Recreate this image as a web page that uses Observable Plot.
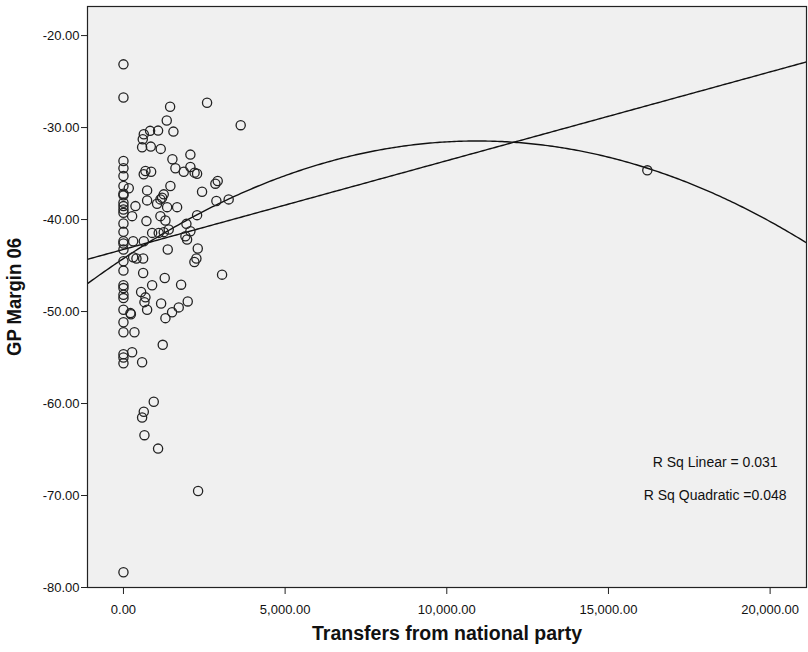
<!DOCTYPE html>
<html><head><meta charset="utf-8">
<script src="https://cdn.jsdelivr.net/npm/d3@7"></script>
<script src="https://cdn.jsdelivr.net/npm/@observablehq/plot@0.6"></script>
<style>
body{margin:0;background:#fff;}
#chart svg{display:block;}
</style></head>
<body><div id="chart"></div>
<script>
// Transfers from national party (x) and GP Margin 06 (y)
const transfers = [
  0,0,0,0,0,0,0,0,0,0,0,0,0,0,0,0,0,0,0,0,0,0,0,0,0,0,0,0,0,0,
  1443,2586,1339,3626,629,824,1071,1545,597,577,845,1153,1514,2070,
  164,268,680,627,856,1607,1864,2070,2277,2200,1452,732,1246,1143,1195,732,371,1040,1350,1659,
  2431,2843,2915,3254,2874,1143,1298,711,2277,1947,2070,1916,1968,887,1091,1246,1400,
  629,300,300,402,609,1370,2298,2256,2194,609,1277,3050,
  887,1783,546,680,649,732,1165,1710,1988,1504,1298,216,230,340,1215,268,577,
  937,629,577,649,1071,2308,16202
];
const margin06 = [
  -23.13,-26.73,-33.63,-34.43,-35.27,-36.36,-37.20,-37.37,-38.18,-38.54,-38.90,-39.27,-40.43,-41.34,-42.36,-42.61,-43.26,-44.54,-45.55,-47.15,-47.45,-48.17,-48.54,-49.80,-51.16,-52.25,-54.65,-55.00,-55.63,-78.34,
  -27.74,-27.31,-29.24,-29.74,-30.72,-30.36,-30.33,-30.44,-31.27,-32.14,-32.07,-32.32,-33.45,-32.94,
  -36.60,-39.63,-34.72,-35.08,-34.80,-34.43,-34.80,-34.29,-35.02,-34.90,-36.36,-36.83,-37.26,-37.81,-37.63,-37.92,-38.54,-38.29,-38.65,-38.65,
  -36.98,-36.10,-35.81,-37.81,-37.99,-39.63,-40.10,-40.17,-39.52,-40.47,-41.27,-41.81,-42.17,-41.45,-41.45,-41.37,-41.08,
  -42.36,-42.36,-44.10,-44.24,-44.24,-43.26,-43.15,-44.24,-44.61,-45.81,-46.36,-45.99,
  -47.15,-47.08,-47.88,-48.46,-48.98,-49.80,-49.12,-49.55,-48.90,-50.07,-50.72,-50.17,-50.30,-52.25,-53.62,-54.43,-55.52,
  -59.80,-60.89,-61.52,-63.44,-64.90,-69.51,-34.65
];
const xTicks = [0, 5000, 10000, 15000, 20000];
const yTicks = [-20, -30, -40, -50, -60, -70, -80];
const xDomain = [-1112, 21125];
const yDomain = [-80, -16.84];
// fit coefficients
const linearFit = [-43.25, 0.000965];                 // intercept, slope
const quadraticFit = [-44.24, 0.0023363, -1.0677e-7];  // c, b, a
const rsqLabels = ["R Sq Linear = 0.031", "R Sq Quadratic =0.048"];
const xTitle = "Transfers from national party";
const yTitle = "GP Margin 06";

const points = transfers.map((x, i) => ({x, y: margin06[i]}));
const xs = d3.range(xDomain[0], xDomain[1] + 1, (xDomain[1] - xDomain[0]) / 300);
const linPts = xs.map(x => ({x, y: linearFit[0] + linearFit[1] * x}));
const quadPts = xs.map(x => ({x, y: quadraticFit[0] + quadraticFit[1] * x + quadraticFit[2] * x * x}));

const font = "'Liberation Sans', Arial, sans-serif";
const fmtX = d3.formatLocale({decimal: ".", thousands: ",", grouping: [3], currency: ["", ""], minus: "-"}).format(",.2f");
const fmtY = d3.formatLocale({decimal: ".", thousands: ",", grouping: [3], currency: ["", ""], minus: "-"}).format(".2f");

const chart = Plot.plot({
  width: 808,
  height: 652,
  marginLeft: 87,
  marginRight: 2,
  marginTop: 6,
  marginBottom: 65,
  style: {fontFamily: font, background: "#fff", color: "#111"},
  x: {domain: xDomain},
  y: {domain: yDomain},
  marks: [
    Plot.frame({fill: "#f0f0f0"}),
    Plot.line(linPts, {x: "x", y: "y", stroke: "#111", strokeWidth: 1.4, clip: true}),
    Plot.line(quadPts, {x: "x", y: "y", stroke: "#111", strokeWidth: 1.4, clip: true}),
    Plot.dot(points, {x: "x", y: "y", r: 4.6, stroke: "#222", strokeWidth: 1.3, fill: "none"}),
    Plot.frame({stroke: "#222", strokeWidth: 1.2}),
    Plot.axisX({ticks: xTicks, tickFormat: fmtX, tickSize: 7, tickPadding: 10, fontSize: 13, label: null, stroke: "#222"}),
    Plot.axisY({ticks: yTicks, tickFormat: fmtY, tickSize: 6, tickPadding: 2, fontSize: 13, label: null, stroke: "#222"}),
    Plot.text([rsqLabels[0]], {x: 18300, y: -66.45, text: d => d, fontSize: 14, fill: "#111"}),
    Plot.text([rsqLabels[1]], {x: 18300, y: -70.05, text: d => d, fontSize: 14, fill: "#111"}),
    Plot.text([xTitle], {frameAnchor: "bottom", textAnchor: "middle", lineAnchor: "middle", dy: 46, text: d => d, fontSize: 20, fontWeight: "bold", fill: "#111", className: "xtitle"}),
    Plot.text([yTitle], {frameAnchor: "left", textAnchor: "middle", lineAnchor: "middle", dx: -73, rotate: -90, text: d => d, fontSize: 20, fontWeight: "bold", fill: "#111", className: "ytitle"})
  ]
});
// condense the bold axis titles to the narrow widths of the original
chart.querySelectorAll(".xtitle text").forEach(t => { t.setAttribute("textLength", 270); t.setAttribute("lengthAdjust", "spacingAndGlyphs"); });
chart.querySelectorAll(".ytitle text").forEach(t => { t.setAttribute("textLength", 118); t.setAttribute("lengthAdjust", "spacingAndGlyphs"); });
document.getElementById("chart").append(chart);
</script>
</body></html>
